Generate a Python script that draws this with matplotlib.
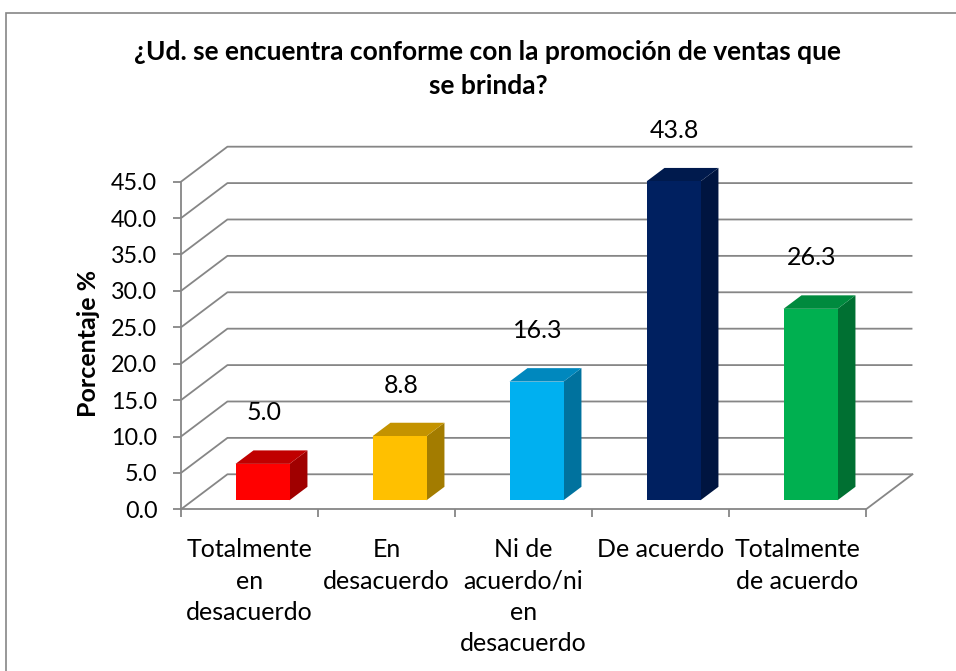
import matplotlib
matplotlib.use("Agg")
import matplotlib.pyplot as plt
from matplotlib.patches import Polygon, Rectangle

categories = ["Totalmente\nen\ndesacuerdo", "En\ndesacuerdo", "Ni de\nacuerdo/ni\nen\ndesacuerdo",
              "De acuerdo", "Totalmente\nde acuerdo"]
values = [5.0, 8.8, 16.3, 43.8, 26.3]
labels = ["5.0", "8.8", "16.3", "43.8", "26.3"]
front_colors = ["#FF0000", "#FFC000", "#00B0F0", "#002060", "#00B050"]
top_colors = ["#C00000", "#C49300", "#0088BE", "#001A4D", "#008A3E"]
side_colors = ["#A00000", "#A37C00", "#00729E", "#001540", "#007032"]
yticks = [0, 5, 10, 15, 20, 25, 30, 35, 40, 45]
title = "¿Ud. se encuentra conforme con la promoción de ventas que\nse brinda?"

FONT = "Lato"
GRID = "#868686"

W, H = 956, 671
fig = plt.figure(figsize=(W / 100, H / 100), dpi=100)
ax = fig.add_axes([181 / W, 1 - 509.3 / H, 685 / W, 327.6 / H])
ax.set_xlim(-0.5, 4.5)
ax.set_ylim(0, 45)
ax.patch.set_alpha(0)

# oblique depth (in data units)
DX, DY = 0.339, 4.81        # full depth of the floor/walls
BOX, BOY = 0.095, 1.24      # bar front offset
BDX, BDY = 0.131, 1.85      # bar depth
BW = 0.394                  # bar width

# back wall gridlines and side wall diagonals
for v in yticks:
    ax.plot([-0.5, -0.5 + DX, 4.5 + DX], [v, v + DY, v + DY], color=GRID,
            lw=1.3, clip_on=False, zorder=1, solid_capstyle="butt")
# floor right edge
ax.plot([4.5, 4.5 + DX], [0, DY], color=GRID, lw=1.3, clip_on=False, zorder=1)

# bars
for i, v in enumerate(values):
    x0 = i - BW / 2 + BOX
    x1 = x0 + BW
    y0 = BOY
    y1 = BOY + v
    front = Polygon([(x0, y0), (x1, y0), (x1, y1), (x0, y1)], closed=True,
                    facecolor=front_colors[i], edgecolor="none", clip_on=False, zorder=3)
    top = Polygon([(x0, y1), (x1, y1), (x1 + BDX, y1 + BDY), (x0 + BDX, y1 + BDY)], closed=True,
                  facecolor=top_colors[i], edgecolor="none", clip_on=False, zorder=3)
    side = Polygon([(x1, y0), (x1 + BDX, y0 + BDY), (x1 + BDX, y1 + BDY), (x1, y1)], closed=True,
                   facecolor=side_colors[i], edgecolor="none", clip_on=False, zorder=3)
    for p in (side, top, front):
        ax.add_patch(p)
    ax.text((x0 + x1) / 2 + 0.01, y1 + 7.0, labels[i], ha="center", va="center",
            fontsize=18, family=FONT, color="black", zorder=4)

# axes styling
for s in ("top", "right"):
    ax.spines[s].set_visible(False)
for s in ("left", "bottom"):
    ax.spines[s].set_color(GRID)
    ax.spines[s].set_linewidth(1.3)
    ax.spines[s].set_zorder(2)

ax.set_yticks(yticks)
ax.set_yticklabels([f"{t:.1f}" for t in yticks], family=FONT, fontsize=16.8)
ax.set_xticks([-0.5, 0.5, 1.5, 2.5, 3.5, 4.5])
ax.set_xticklabels([])
ax.set_xticks(range(len(categories)), minor=True)
ax.set_xticklabels(categories, minor=True, family=FONT, fontsize=18, linespacing=1.43,
                   va="top", ha="center")
ax.tick_params(axis="y", direction="out", length=6, width=1.3, color=GRID, pad=11)
ax.tick_params(axis="x", which="major", direction="out", length=6, width=1.3, color=GRID)
ax.tick_params(axis="x", which="minor", length=0, pad=21)

fig.text(88 / W, 1 - 343 / H, "Porcentaje %", rotation=90, ha="center", va="center",
         fontsize=18, fontweight="bold", family=FONT)
fig.text(488 / W, 1 - 69 / H, title, ha="center", va="center", fontsize=19,
         fontweight="bold", family=FONT, linespacing=1.45)

# chart border
fig.add_artist(Rectangle((5.5 / W, -0.05), 1.1, 1.05 - 13 / H, transform=fig.transFigure,
                         fill=False, edgecolor=GRID, lw=1.2))

fig.savefig("out.png", dpi=100)
